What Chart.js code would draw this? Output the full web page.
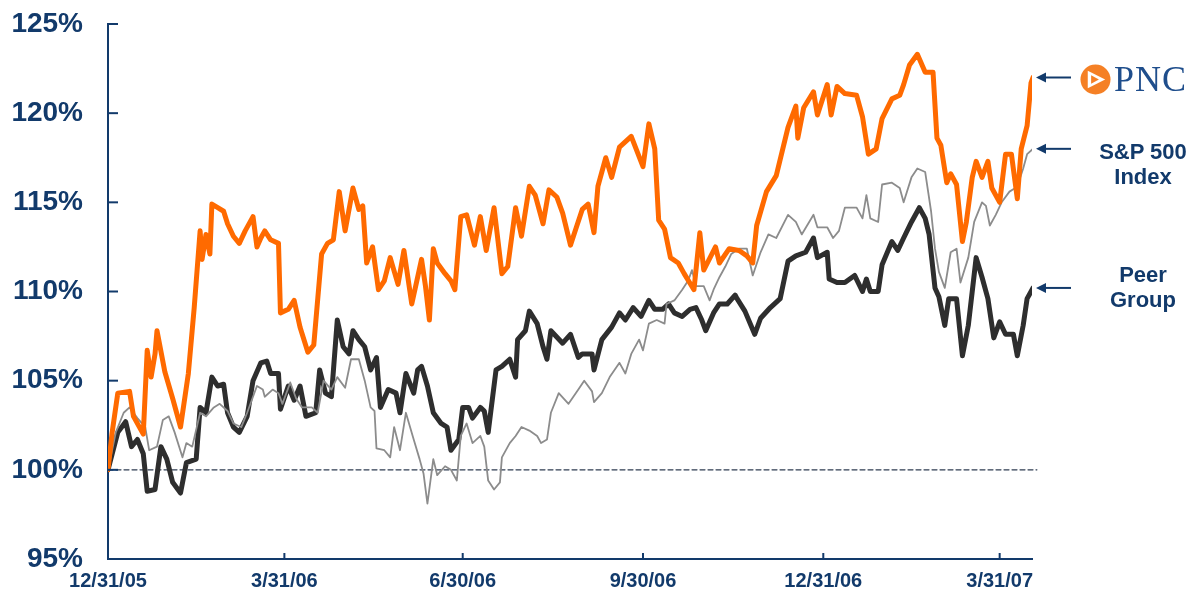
<!DOCTYPE html>
<html lang="en">
  <head>
    <meta charset="UTF-8" />
    <title>PNC vs S&amp;P 500 vs Peer Group</title>
    <script src="https://cdn.jsdelivr.net/npm/chart.js@4.4.0/dist/chart.umd.min.js"></script>
    <style>
      body { margin: 0; background: #fff; }
      #wrap { position: relative; width: 1191px; height: 593px; }
      .lbl {
        position: absolute; width: 120px; text-align: center;
        font-family: Arial, "Liberation Sans", sans-serif; font-weight: bold;
        font-size: 22px; line-height: 25px; color: #123a6b;
      }
      #pnc { position: absolute; left: 1080px; top: 63px; display: flex; align-items: center; }
      #pnc span {
        font-family: "Liberation Serif", "Times New Roman", serif; font-size: 36px;
        color: #1f4e8c; margin-left: 3px; letter-spacing: 1px; line-height: 32px;
      }
    </style>
  </head>
  <body>
    <div id="wrap">
      <canvas id="myChart" width="1191" height="593"></canvas>
      <div id="pnc">
        <svg width="31" height="31" viewBox="0 0 32 32">
          <circle cx="16" cy="16" r="15.5" fill="#f58025" />
          <polygon points="8,7 26,16 8,25" fill="#fff" />
          <polygon points="11.5,11.5 19.5,16 11.5,20.5" fill="#f58025" />
        </svg>
        <span>PNC</span>
      </div>
      <div class="lbl" style="left:1083px; top:139px;">S&amp;P 500<br />Index</div>
      <div class="lbl" style="left:1083px; top:262px;">Peer<br />Group</div>
    </div>

    <script>
      // x values are days since 12/31/05, y values are % of starting value
      const tickDays = [0, 90, 181, 273, 365, 455];
      const tickLabels = ["12/31/05", "3/31/06", "6/30/06", "9/30/06", "12/31/06", "3/31/07"];

      // PNC
      const pncDays = [0,2,5,11,13,18,20,22,24,25,29,33,37,41,44,47,48,50,52,53,
        56,59,61,64,67,70,74,76,78,80,83,87,88,92,95,98,102,105,109,112,
        115,118,121,125,128,130,132,135,138,141,144,148,151,155,160,162,164,166,168,172,
        175,177,180,183,187,190,193,197,201,204,208,211,215,218,222,225,229,232,236,239,
        242,245,248,250,254,257,261,267,273,276,279,281,284,287,291,294,299,302,304,310,
        312,317,322,326,329,331,336,341,347,351,352,355,360,362,367,369,372,376,382,385,
        388,392,395,400,404,406,409,413,417,421,423,425,428,430,433,436,438,441,443,446,
        449,451,455,458,461,464,466,469,471,472];
      const pncValues = [100.0,102.0,104.3,104.4,103.0,102.0,106.7,105.2,106.5,107.8,
        105.5,104.0,102.4,105.4,109.1,113.4,111.8,113.2,112.1,114.9,
        114.7,114.5,113.8,113.1,112.7,113.4,114.2,112.5,113.0,113.4,
        112.9,112.7,108.8,109.0,109.5,108.0,106.6,107.0,112.1,112.7,
        112.9,115.6,113.4,115.8,114.6,114.8,111.6,112.5,110.1,110.6,
        111.9,110.4,112.3,109.3,111.8,110.3,108.4,112.4,111.6,111.0,
        110.6,110.1,114.2,114.3,112.6,114.2,112.3,114.7,111.0,111.4,
        114.7,113.1,115.9,115.4,113.8,115.7,115.3,114.4,112.6,113.6,
        114.6,114.9,113.3,115.9,117.5,116.4,118.1,118.7,117.0,119.4,
        118.0,114.0,113.5,111.9,111.6,111.0,110.1,113.3,111.2,112.5,
        111.6,112.4,112.3,112.0,111.6,113.7,115.6,116.5,119.2,120.4,
        118.6,120.3,121.2,119.9,121.6,119.9,121.5,121.1,121.0,119.8,
        117.7,118.0,119.7,120.8,121.0,121.6,122.7,123.3,122.3,122.3,
        118.6,118.2,116.1,116.6,116.0,112.8,113.9,116.4,117.3,116.4,
        117.3,115.8,115.0,117.7,117.7,115.2,118.0,119.3,121.7,122.0];

      // S&P 500 Index
      const spDays = [0,4,8,11,15,19,21,25,28,31,
        34,38,40,43,47,50,54,57,61,64,
        68,71,76,79,80,84,87,89,93,96,
        99,104,107,110,114,117,121,124,128,131,
        134,136,137,141,144,146,149,152,156,159,
        161,163,166,168,172,175,178,180,183,186,
        190,192,194,197,200,201,205,208,211,215,
        219,221,224,226,230,235,240,243,247,248,
        252,256,261,264,267,271,273,276,280,284,
        285,289,293,296,298,300,304,307,309,312,
        315,318,322,326,329,333,337,341,347,351,
        354,360,362,367,370,373,376,382,385,387,
        389,393,395,400,404,406,410,413,417,420,
        422,424,427,430,433,435,439,442,446,448,
        450,453,456,460,463,464,467,469,472];
      const spValues = [100.0,102.1,103.2,103.5,102.9,102.4,101.1,101.3,102.8,103.0,
        102.1,100.7,101.5,101.3,103.2,103.0,103.5,103.7,103.3,102.6,
        102.4,103.2,104.7,104.5,104.1,104.5,104.3,103.7,104.9,104.0,
        103.5,103.5,103.2,105.0,104.5,105.2,104.6,106.2,106.2,105.0,
        103.5,103.3,101.2,101.1,100.7,102.4,101.1,103.2,101.7,100.6,
        99.8,98.1,100.6,99.7,100.2,100.0,99.4,101.9,102.6,101.5,
        101.9,101.3,99.4,98.9,99.3,100.7,101.5,101.9,102.4,102.2,
        101.9,101.5,101.7,103.2,104.3,103.7,104.5,105.0,104.4,103.8,
        104.3,105.2,106.0,105.4,106.5,107.3,106.7,108.2,108.4,108.2,
        109.3,109.5,110.1,110.6,111.2,110.3,110.3,109.5,110.1,110.8,
        111.4,112.1,112.4,112.4,110.9,112.2,113.2,113.0,114.3,113.9,
        113.2,114.3,113.6,113.6,113.0,113.4,114.7,114.7,114.1,115.4,
        114.1,113.9,116.0,116.1,115.8,115.0,116.4,116.9,116.7,114.5,
        112.4,111.1,110.2,112.2,112.4,110.5,111.9,113.9,115.0,114.8,
        113.7,114.3,115.0,115.6,115.8,115.9,116.9,117.7,118.0];

      // Peer Group
      const peerDays = [0,5,9,12,15,18,20,24,27,30,
        33,37,40,45,47,50,53,56,59,61,
        64,67,71,74,78,81,83,87,88,92,
        95,98,101,106,108,111,114,117,120,123,
        125,128,131,134,137,139,143,147,149,152,
        156,158,160,163,166,170,173,175,179,181,
        184,186,190,192,194,198,201,205,208,209,
        213,215,219,222,224,226,232,236,240,242,
        247,248,252,257,261,264,268,272,276,279,
        283,286,289,293,297,300,303,305,309,312,
        316,320,321,325,330,333,338,343,347,351,
        356,360,362,367,368,372,376,381,385,387,
        389,393,395,400,403,406,410,414,417,419,
        422,424,427,429,433,436,439,443,446,449,
        452,455,458,462,464,467,469,472];
      const peerValues = [100.0,102.1,102.7,101.3,101.7,100.9,98.8,98.9,101.3,100.6,
        99.3,98.7,100.4,100.6,103.5,103.2,105.2,104.7,104.8,103.2,
        102.4,102.1,103.0,105.0,106.0,106.1,105.4,105.4,103.4,104.7,
        103.9,104.7,103.0,103.2,105.6,104.3,104.1,108.4,106.9,106.5,
        107.8,107.3,106.9,105.6,106.3,103.5,104.5,104.3,103.2,105.4,
        104.3,105.6,105.8,104.7,103.2,102.6,102.4,101.1,101.7,103.5,
        103.5,102.9,103.5,103.3,102.1,105.6,105.8,106.2,105.2,107.3,
        107.8,108.9,108.2,106.9,106.2,107.8,107.1,107.6,106.3,106.5,
        106.5,105.6,107.3,108.0,108.8,108.4,109.1,108.6,109.5,109.0,
        109.0,109.3,108.8,108.6,109.0,109.1,108.4,107.8,108.8,109.3,
        109.3,109.8,109.6,108.9,107.6,108.5,109.1,109.6,111.7,112.0,
        112.2,113.0,111.9,112.2,110.7,110.5,110.5,110.9,110.0,110.7,
        110.0,110.0,111.5,112.8,112.3,113.0,113.9,114.7,114.1,113.2,
        110.2,109.7,108.1,109.6,109.6,106.4,108.1,111.9,110.8,109.6,
        107.4,108.3,107.6,107.6,106.4,108.1,109.6,110.2];

      // 100% reference line
      const baseDays = [0, 474];
      const baseValues = [100, 100];

      const navy = "#123a6b";

      function toPoints(days, values) {
        return days.map((d, i) => ({ x: d, y: values[i] }));
      }

      // inward tick marks + arrows pointing at the last value of each series
      const extras = {
        id: "extras",
        afterDraw(chart) {
          const ctx = chart.ctx;
          const xs = chart.scales.x;
          const ys = chart.scales.y;
          const area = chart.chartArea;
          ctx.save();
          ctx.strokeStyle = navy;
          ctx.fillStyle = navy;
          ctx.lineWidth = 2;
          ys.ticks.forEach((t) => {
            if (t.value === ys.min) return;
            const py = ys.getPixelForValue(t.value);
            ctx.beginPath();
            ctx.moveTo(area.left, py);
            ctx.lineTo(area.left + 10, py);
            ctx.stroke();
          });
          xs.ticks.forEach((t) => {
            if (t.value === xs.min) return;
            const px = xs.getPixelForValue(t.value);
            ctx.beginPath();
            ctx.moveTo(px, area.bottom);
            ctx.lineTo(px, area.bottom - 6);
            ctx.stroke();
          });
          [0, 1, 2].forEach((i) => {
            const pts = chart.getDatasetMeta(i).data;
            const last = pts[pts.length - 1];
            const tip = last.x + 3;
            const py = last.y;
            ctx.beginPath();
            ctx.moveTo(tip + 8, py);
            ctx.lineTo(1071, py);
            ctx.stroke();
            ctx.beginPath();
            ctx.moveTo(tip, py);
            ctx.lineTo(tip + 10, py - 5);
            ctx.lineTo(tip + 10, py + 5);
            ctx.closePath();
            ctx.fill();
          });
          ctx.restore();
        },
      };

      const ctx = document.getElementById("myChart").getContext("2d");
      const myChart = new Chart(ctx, {
        type: "line",
        data: {
          datasets: [
            {
              label: "PNC",
              data: toPoints(pncDays, pncValues),
              borderColor: "#ff6a00",
              borderWidth: 5,
              order: 1,
            },
            {
              label: "S&P 500 Index",
              data: toPoints(spDays, spValues),
              borderColor: "#8c8c8c",
              borderWidth: 1.8,
              order: 2,
            },
            {
              label: "Peer Group",
              data: toPoints(peerDays, peerValues),
              borderColor: "#2e2e2e",
              borderWidth: 5,
              order: 3,
            },
            {
              label: "base",
              data: toPoints(baseDays, baseValues),
              borderColor: "#2f3d52",
              borderWidth: 1.2,
              borderDash: [5, 3],
              clip: false,
              order: 4,
            },
          ],
        },
        options: {
          responsive: false,
          animation: false,
          devicePixelRatio: 1,
          layout: { padding: { top: 24, right: 159, left: 0, bottom: 0 } },
          elements: {
            point: { radius: 0 },
            line: { tension: 0, borderJoinStyle: "round", borderCapStyle: "round" },
          },
          plugins: { legend: { display: false }, tooltip: { enabled: false } },
          scales: {
            x: {
              type: "linear",
              min: 0,
              max: 471.5,
              grid: { display: false, drawTicks: false },
              border: { display: true, color: navy, width: 2 },
              afterBuildTicks: (scale) => {
                scale.ticks = tickDays.map((v) => ({ value: v }));
              },
              afterFit: (scale) => { scale.height = 34; },
              ticks: {
                maxRotation: 0,
                autoSkip: false,
                padding: 10,
                color: navy,
                font: { family: "Arial, 'Liberation Sans', sans-serif", size: 20, weight: "bold" },
                callback: (v) => {
                  const i = tickDays.indexOf(v);
                  return i >= 0 ? tickLabels[i] : "";
                },
              },
            },
            y: {
              min: 95,
              max: 125,
              grid: { display: false, drawTicks: false },
              border: { display: true, color: navy, width: 2 },
              afterFit: (scale) => {
                // keep the label gap from pushing the plot area in
                scale.width = 108;
                scale.paddingTop = 0;
                scale.paddingBottom = 0;
              },
              ticks: {
                stepSize: 5,
                padding: 25,
                color: navy,
                font: { family: "Arial, 'Liberation Sans', sans-serif", size: 28, weight: "bold" },
                callback: (v) => v + "%",
              },
            },
          },
        },
        plugins: [extras],
      });
    </script>
  </body>
</html>
